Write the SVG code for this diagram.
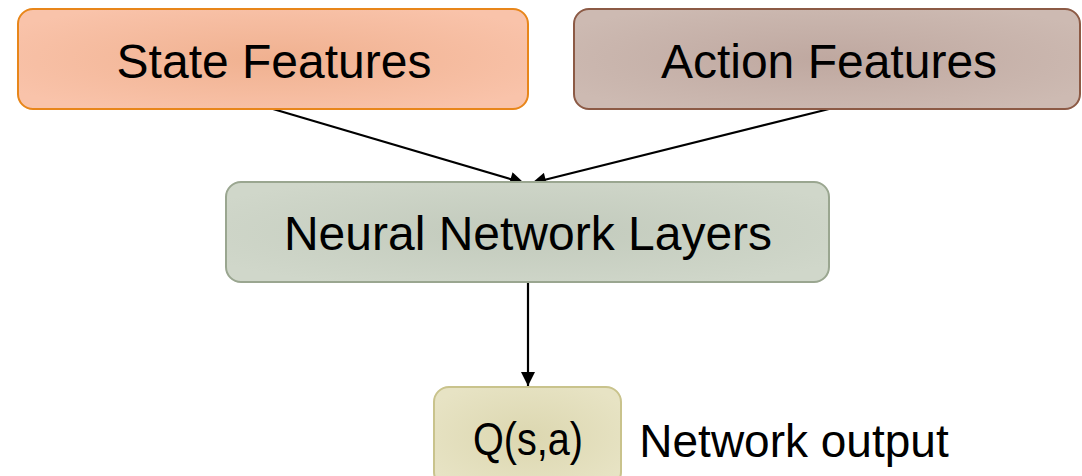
<svg xmlns="http://www.w3.org/2000/svg" width="1082" height="476" viewBox="0 0 1082 476">
<defs>
<radialGradient id="gState" cx="0.5" cy="0.5" r="0.6"><stop offset="0" stop-color="#f0b190"/><stop offset="1" stop-color="#f9c3aa"/></radialGradient>
<radialGradient id="gAction" cx="0.5" cy="0.5" r="0.6"><stop offset="0" stop-color="#bfa8a0"/><stop offset="1" stop-color="#cdbab2"/></radialGradient>
<radialGradient id="gNN" cx="0.5" cy="0.5" r="0.6"><stop offset="0" stop-color="#c2cabc"/><stop offset="1" stop-color="#d0d7ca"/></radialGradient>
<radialGradient id="gQ" cx="0.5" cy="0.5" r="0.6"><stop offset="0" stop-color="#dcd7b0"/><stop offset="1" stop-color="#e7e3c4"/></radialGradient>
<marker id="arr" viewBox="0 0 10 10" refX="10" refY="5" markerWidth="15" markerHeight="14" markerUnits="userSpaceOnUse" orient="auto"><path d="M0,0 L10,5 L0,10 z" fill="#000"/></marker>
</defs>
<style>
.lbl{font-family:"Liberation Sans",Arial,sans-serif;fill:#000;text-anchor:middle}
.box{stroke-width:2}
.conn{stroke:#000;stroke-width:2.2;fill:none;marker-end:url(#arr)}
</style>
<rect width="1082" height="476" fill="#fff"/>
<g id="connectors">
<line class="conn" x1="273" y1="109" x2="524" y2="183"/>
<line class="conn" x1="829" y1="109" x2="532" y2="183"/>
<line class="conn" x1="528" y1="283" x2="528" y2="386"/>
</g>
<g id="state">
<rect class="box" x="18" y="9" width="510" height="100" rx="15" fill="url(#gState)" stroke="#e8861a"/>
<text class="lbl" x="274" y="78" font-size="48">State Features</text>
</g>
<g id="action">
<rect class="box" x="574" y="9" width="506" height="100" rx="15" fill="url(#gAction)" stroke="#8c5a45"/>
<text class="lbl" x="829" y="78" font-size="48">Action Features</text>
</g>
<g id="nn">
<rect class="box" x="226" y="182" width="603" height="100" rx="15" fill="url(#gNN)" stroke="#9aa690"/>
<text class="lbl" x="528" y="250" font-size="48">Neural Network Layers</text>
</g>
<g id="q">
<rect class="box" x="434" y="387" width="187" height="100" rx="15" fill="url(#gQ)" stroke="#c9c38c"/>
<text class="lbl" x="528" y="455" font-size="46" textLength="110" lengthAdjust="spacingAndGlyphs">Q(s,a)</text>
</g>
<g id="note">
<text class="lbl" x="794" y="457" font-size="46">Network output</text>
</g>
</svg>
